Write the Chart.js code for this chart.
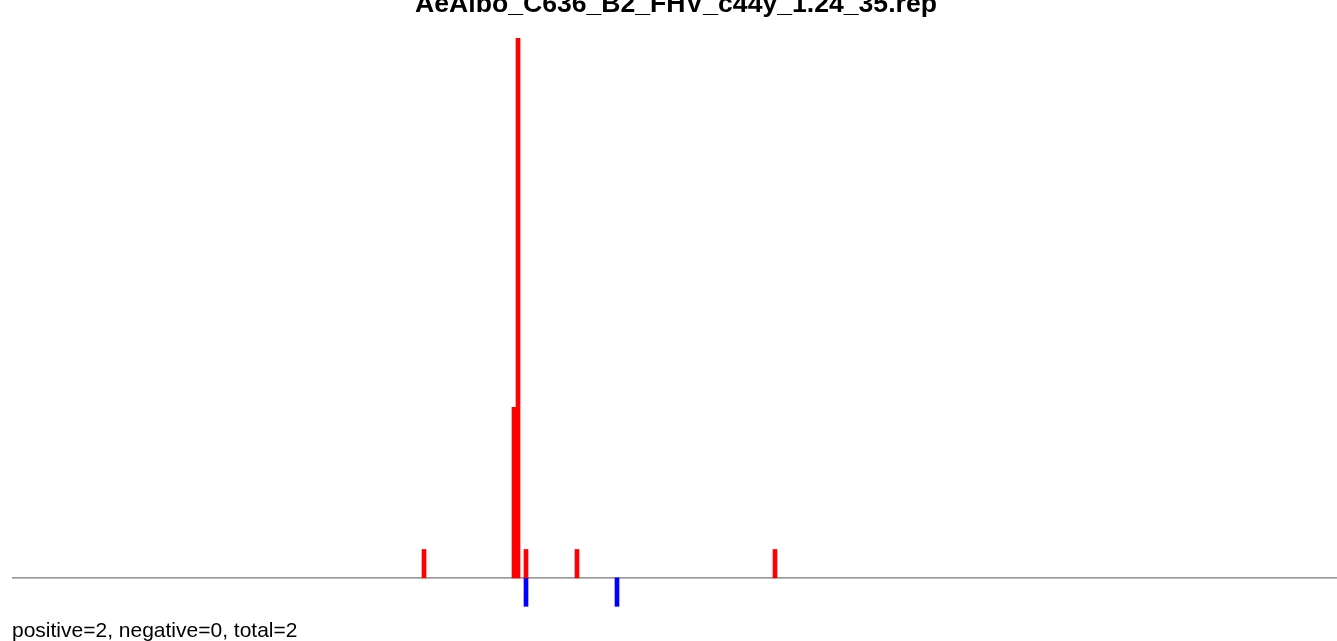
<!DOCTYPE html>
<html>
<head>
<meta charset="utf-8">
<script src="https://cdn.jsdelivr.net/npm/chart.js@4"></script>
<style>
    body { margin: 0; background: #fff; }
    #wrap { width: 1337px; height: 641px; }
</style>
</head>
<body>
<div id="wrap"><canvas id="myChart" width="1337" height="641"></canvas></div>
<script>
// 配列データ
const titleText = "AeAlbo_C636_B2_FHV_c44y_1.24_35.rep";
const footerText = "positive=2, negative=0, total=2";
const seqLength = 1325;
const posPositions = [412, 502, 506, 514, 565, 763];
const posCounts = [1, 6, 19, 1, 1, 1];
const negPositions = [514, 605];
const negCounts = [-1, -1];

function toPoints(xs, ys) {
    let pts = [];
    for (var i = 0; i < xs.length; i++) {
        pts.push({ x: xs[i], y: ys[i] });
    }
    return pts;
}

// タイトル・ベースライン・フッター
const decorPlugin = {
    id: 'decor',
    beforeDatasetsDraw: function (chart) {
        const ctx = chart.ctx;
        const y0 = chart.scales.y.getPixelForValue(0);
        ctx.save();
        ctx.strokeStyle = '#777777';
        ctx.lineWidth = 1.2;
        ctx.beginPath();
        ctx.moveTo(chart.chartArea.left, y0);
        ctx.lineTo(chart.chartArea.right, y0);
        ctx.stroke();
        ctx.restore();
    },
    afterDraw: function (chart) {
        const ctx = chart.ctx;
        ctx.save();
        ctx.fillStyle = '#000';
        ctx.textBaseline = 'alphabetic';
        ctx.font = 'bold 26.6px "Liberation Sans", Arial, sans-serif';
        ctx.textAlign = 'center';
        ctx.fillText(titleText, 676, 12);
        ctx.font = '21px "Liberation Sans", Arial, sans-serif';
        ctx.textAlign = 'left';
        ctx.fillText(footerText, 12, 637);
        ctx.restore();
    }
};

var ctx = document.getElementById('myChart').getContext('2d');
var myChart = new Chart(ctx, {
    type: 'bar',
    data: {
        datasets: [{
            label: 'positive',
            data: toPoints(posPositions, posCounts),
            backgroundColor: '#ff0000',
            borderWidth: 0,
            barThickness: 4,
            grouped: false
        }, {
            label: 'negative',
            data: toPoints(negPositions, negCounts),
            backgroundColor: '#0000ff',
            borderWidth: 0,
            barThickness: 4,
            grouped: false
        }]
    },
    options: {
        responsive: false,
        animation: false,
        layout: { padding: { left: 12, right: 0, top: 38, bottom: 29 } },
        plugins: {
            legend: { display: false },
            tooltip: { enabled: false }
        },
        scales: {
            x: { type: 'linear', display: false, offset: false, min: 0, max: seqLength },
            y: { display: false, min: -1.2, max: 19 }
        }
    },
    plugins: [decorPlugin]
});
</script>
</body>
</html>
